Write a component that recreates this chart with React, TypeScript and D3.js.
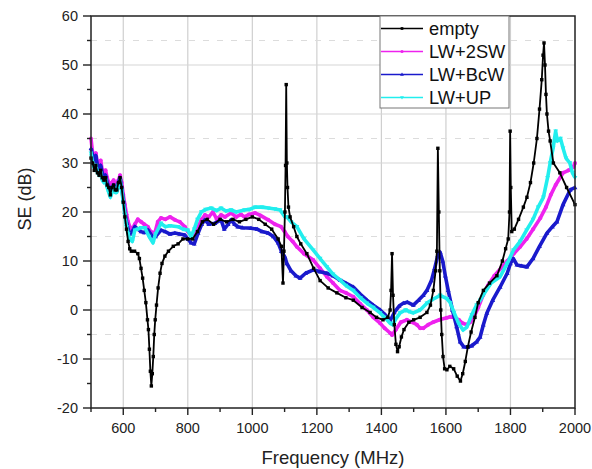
import React from "react";
import * as d3 from "d3";

type P = [number, number];

const xTicks = [600, 800, 1000, 1200, 1400, 1600, 1800, 2000];
const yTicks = [-20, -10, 0, 10, 20, 30, 40, 50, 60];
const yMinorGrid = [-5, 15, 35, 55];

const empty: P[] = [
  [500,31],[505,30],[510,28.5],[515,29.5],[520,28],[525,27.5],[530,28.5],[535,27],[540,26.5],[545,27],[550,25.5],[555,25],[560,23.5],[565,25],[570,25.5],[575,24.5],[580,24.5],[585,26],[590,27],[595,25],[600,22],[605,19],[610,16.5],[615,14],[620,12.5],[625,12],[635,12],[645,11.5],[650,10.5],[655,8.5],[660,6.5],[665,4],[670,1.5],[675,-2],[678,-4],[681,-8],[684,-12.5],[687,-15.5],[690,-13],[693,-9.5],[696,-5],[699,-2],[703,1],[708,4.5],[714,7.5],[720,9.5],[729,11],[740,12],[755,13],[770,13.5],[785,14.5],[800,14.5],[815,14.5],[830,16],[845,18],[860,18.5],[880,17.5],[900,18.5],[920,18],[940,18.5],[960,18],[980,18.5],[1000,19],[1020,18.5],[1040,17.5],[1060,16.5],[1080,14.5],[1090,13],[1095,5.5],[1098,12],[1101,20],[1103,29.5],[1105,46],[1107,30],[1109,25],[1112,21],[1117,19],[1128,17],[1138,15],[1150,13.5],[1169,11.5],[1190,8.5],[1210,6],[1235,4.5],[1262,3.5],[1290,2.5],[1313,2],[1340,0.5],[1365,-0.5],[1385,-1.5],[1405,-2],[1420,-1.5],[1427,0],[1430,4],[1433,11.5],[1436,3],[1440,-3],[1445,-7],[1450,-8.5],[1455,-7.5],[1462,-5.5],[1470,-4],[1485,-2.5],[1500,-2],[1520,-1.5],[1541,-0.5],[1552,1],[1561,4],[1568,8],[1572,12],[1575,33],[1578,20],[1581,8],[1584,0],[1587,-5],[1591,-9.5],[1596,-12],[1603,-12.2],[1612,-11.5],[1624,-12],[1635,-13.5],[1645,-14.5],[1652,-13],[1660,-10.5],[1668,-7.5],[1678,-4.5],[1690,-1.5],[1700,1.5],[1716,4],[1735,5.5],[1758,7],[1775,10],[1785,12.5],[1793,14.5],[1797,20],[1799,36.5],[1801,25],[1804,16],[1812,16.5],[1825,18.5],[1840,21],[1851,23],[1862,26],[1872,30],[1882,35],[1890,41],[1897,47],[1901,52],[1904,54.5],[1907,50],[1910,44],[1913,40],[1918,36.5],[1923,34.5],[1933,30],[1953,28],[1974,25],[2000,21.5]
];

const lw2sw: P[] = [
  [500,35],[505,32],[510,31],[515,32],[520,30],[525,29.5],[530,30.5],[535,28.5],[540,28],[545,28.5],[550,27],[555,26],[560,25],[565,26],[570,26.5],[575,25.5],[580,25],[585,26.5],[590,27.5],[595,26],[600,23.5],[605,21.5],[610,19.5],[615,18],[620,17],[628,16.5],[636,17.5],[645,18.5],[655,18],[665,17.5],[676,17],[685,16],[698,15.7],[707,18],[717,18.8],[730,18.5],[745,19],[760,18.4],[775,18],[791,17],[800,16],[810,15.3],[820,15.5],[832,17],[843,18.5],[853,19.4],[865,19],[878,20],[890,18.5],[903,19.4],[915,19],[934,19.8],[950,19],[965,19.5],[976,19],[990,19.5],[1008,19.8],[1025,19.3],[1049,18.4],[1070,17.5],[1089,17],[1100,16],[1110,15],[1125,14],[1138,12.9],[1160,11.5],[1189,10.2],[1210,8.5],[1231,6.8],[1250,5.5],[1272,4],[1290,3.5],[1313,2.7],[1335,1.2],[1355,0],[1375,-1.5],[1396,-2.7],[1410,-3.7],[1427,-4.7],[1433,-5.1],[1445,-4],[1460,-2.5],[1479,-2],[1495,-2.5],[1510,-3],[1520,-3.7],[1530,-3.7],[1545,-3],[1560,-2.5],[1580,-2],[1603,-1.6],[1613,-1.4],[1625,-1.5],[1640,-2],[1652,-2.7],[1665,-3],[1675,-2.5],[1685,-1.7],[1700,0.5],[1715,3],[1730,5],[1750,7],[1770,8.5],[1790,10],[1810,11.5],[1830,12.9],[1850,14.5],[1870,16.5],[1892,18.7],[1910,21],[1925,23.5],[1940,25.5],[1963,28],[1980,28.5],[1995,29.2],[2000,30]
];

const lwBcw: P[] = [
  [500,33],[505,31.5],[510,30.5],[515,31.5],[520,29.5],[525,28.5],[530,29.5],[535,28],[540,27],[545,27.5],[550,26],[555,25],[560,24],[565,25],[570,25.5],[575,25],[580,24.5],[585,26],[590,27],[595,25],[600,22.5],[605,20],[610,18],[615,16.5],[620,15.5],[628,16],[636,17],[645,16.5],[655,16],[665,15.8],[677,16.3],[690,15],[700,15],[717,16.3],[730,16],[745,15.5],[760,15.7],[775,15.5],[791,15.3],[800,14.5],[810,13.7],[820,13.5],[832,15.7],[843,17.5],[853,18.4],[865,17.5],[884,17.7],[903,18.4],[913,16.5],[925,17.5],[934,18.4],[945,17.5],[955,17],[970,16.8],[996,16.7],[1015,16.5],[1030,16],[1049,15.7],[1065,15],[1080,13.7],[1090,12],[1101,10.8],[1107,9.5],[1120,8],[1135,7],[1148,6.5],[1165,7.5],[1189,8.2],[1210,7.8],[1231,7.5],[1250,7],[1272,6.1],[1290,5.5],[1313,4.7],[1335,3.2],[1355,2],[1375,1],[1396,0],[1412,-1],[1427,-2.2],[1440,-0.5],[1455,0.8],[1468,1.4],[1480,1.6],[1499,1],[1515,2],[1530,3],[1541,4],[1555,6],[1565,8.5],[1575,11.2],[1582,11.8],[1590,10],[1598,7],[1607,4],[1620,0],[1633,-3.4],[1644,-6.5],[1655,-7.5],[1667,-7.6],[1680,-7.3],[1695,-6.5],[1706,-5.5],[1716,-3],[1727,-0.6],[1745,2],[1768,4.7],[1790,7.5],[1800,9.5],[1809,10.5],[1820,9.2],[1835,9],[1851,8.8],[1870,10.5],[1890,13],[1913,15.7],[1930,17],[1944,18],[1963,21.5],[1985,24.5],[2000,25]
];

const lwUp: P[] = [
  [500,32],[505,30],[510,29],[515,29.5],[520,28],[525,27.5],[530,28],[535,26.5],[540,26],[545,26.5],[550,25],[555,24],[560,23],[565,24],[570,25],[575,24],[580,24],[585,25.5],[590,26.5],[595,24.5],[600,22],[605,19.5],[610,17],[615,15.5],[620,14.5],[628,14],[636,16.3],[645,16.5],[655,16.8],[667,16.8],[680,15],[692,13.7],[700,15.5],[717,17.7],[730,17],[745,17.2],[770,17],[785,16.5],[800,16.3],[810,15],[820,16.5],[830,18.5],[842,20],[855,20.5],[873,20.8],[890,20.3],[903,20.8],[918,20.2],[934,20.4],[950,20],[976,20.4],[990,20.5],[1008,21],[1030,21],[1049,20.8],[1070,20.6],[1086,20.4],[1101,19],[1107,19],[1120,18],[1138,17],[1160,14.5],[1189,12.2],[1210,10.5],[1231,8.8],[1250,7.3],[1272,6.1],[1290,5],[1313,4],[1335,2.5],[1355,1.4],[1375,0.5],[1396,-0.6],[1410,-1.5],[1427,-2.7],[1435,-3],[1445,-1.8],[1458,-0.6],[1475,0],[1485,-0.3],[1499,-0.6],[1520,0],[1541,1.4],[1560,2.2],[1582,3],[1603,2.3],[1613,1.5],[1625,-0.5],[1640,-2.8],[1653,-4.1],[1665,-3.5],[1680,-1],[1695,1],[1706,2],[1720,3.5],[1740,5.5],[1768,6.8],[1790,9.5],[1809,12.2],[1830,14],[1850,16.3],[1870,18.5],[1886,21],[1902,23],[1915,27],[1923,30],[1932,33],[1940,36.5],[1945,34.5],[1955,35],[1963,33],[1972,31],[1984,30],[1992,28],[2000,27]
];

const seriesNames = ["empty", "LW+2SW", "LW+BcW", "LW+UP"];
const seriesColors = ["#000000", "#ee22ee", "#1a1acc", "#22eeee"];
const seriesData = [empty, lw2sw, lwBcw, lwUp];

const W = 592, H = 469;
const M = { left: 91, right: 575, top: 16, bottom: 408 };
const FONT = "'Liberation Sans', Arial, sans-serif";

function Marker({ kind, x, y, color, s = 1 }: { kind: number; x: number; y: number; color: string; s?: number }) {
  if (kind === 0) return <rect x={x - 1.7 * s} y={y - 1.7 * s} width={3.4 * s} height={3.4 * s} fill={color} />;
  if (kind === 1) return <circle cx={x} cy={y} r={2 * s} fill={color} />;
  if (kind === 2) return <path d={`M${x},${y - 2.4 * s}L${x + 2.4 * s},${y + 1.7 * s}L${x - 2.4 * s},${y + 1.7 * s}Z`} fill={color} />;
  return <path d={`M${x},${y + 2.4 * s}L${x + 2.4 * s},${y - 1.7 * s}L${x - 2.4 * s},${y - 1.7 * s}Z`} fill={color} />;
}

export default function App() {
  const x = d3.scaleLinear().domain([500, 2000]).range([M.left, M.right]);
  const y = d3.scaleLinear().domain([-20, 60]).range([M.bottom, M.top]);
  const line = d3.line<P>().x((d) => x(d[0])).y((d) => y(d[1]));
  const xMinor = d3.range(500, 2001, 100);
  const yMinor = d3.range(-20, 61, 5);
  const order = [1, 2, 3, 0];

  return (
    <svg width={W} height={H} style={{ position: "absolute", left: 0, top: 0, background: "#fff" }}>
      <rect width={W} height={H} fill="#fff" />
      {/* grid */}
      {xTicks.filter((t) => t < 2000).map((t) => (
        <line key={"gx" + t} x1={x(t)} x2={x(t)} y1={M.top} y2={M.bottom} stroke="#cfcfcf" strokeWidth={1.2} />
      ))}
      {yTicks.filter((t) => t > -20 && t < 60).map((t) => (
        <line key={"gy" + t} x1={M.left} x2={M.right} y1={y(t)} y2={y(t)} stroke="#d6d6d6" strokeWidth={1.2} />
      ))}
      {yMinorGrid.map((t) => (
        <line key={"gm" + t} x1={M.left} x2={M.right} y1={y(t)} y2={y(t)} stroke="#dcdcdc" strokeWidth={1} strokeDasharray="6 8" />
      ))}
      {/* series */}
      {order.map((i) => (
        <g key={"s" + i}>
          <path d={line(seriesData[i]) || ""} fill="none" stroke={seriesColors[i]} strokeWidth={i === 0 ? 1.8 : 3.6} strokeLinejoin="round" />
          {seriesData[i].map((d, j) => (
            <Marker key={j} kind={i} x={x(d[0])} y={y(d[1])} color={seriesColors[i]} />
          ))}
        </g>
      ))}
      {/* frame */}
      <rect x={M.left} y={M.top} width={M.right - M.left} height={M.bottom - M.top} fill="none" stroke="#222" strokeWidth={1.5} />
      {/* y ticks */}
      {yMinor.map((t) => (
        <line key={"yt" + t} x1={M.left - (t % 10 === 0 ? 8 : 4)} x2={M.left} y1={y(t)} y2={y(t)} stroke="#222" strokeWidth={1.4} />
      ))}
      {yTicks.map((t) => (
        <text key={"yl" + t} x={M.left - 13} y={y(t) + 5} textAnchor="end" fontFamily={FONT} fontSize={14.5} fill="#222">{t}</text>
      ))}
      {/* x ticks */}
      {xMinor.map((t) => (
        <line key={"xt" + t} x1={x(t)} x2={x(t)} y1={M.bottom} y2={M.bottom + (t % 200 === 0 ? 7 : 4)} stroke="#222" strokeWidth={1.4} />
      ))}
      {xTicks.map((t) => (
        <text key={"xl" + t} x={x(t)} y={M.bottom + 25} textAnchor="middle" fontFamily={FONT} fontSize={14.5} fill="#222">{t}</text>
      ))}
      {/* axis titles */}
      <text x={333} y={464} textAnchor="middle" fontFamily={FONT} fontSize={18.5} fill="#222">Frequency (MHz)</text>
      <text transform={`translate(31,199) rotate(-90)`} textAnchor="middle" fontFamily={FONT} fontSize={18} fill="#222">SE (dB)</text>
      {/* legend */}
      <g>
        <rect x={380} y={M.top} width={129} height={92} fill="#fff" stroke="#777" strokeWidth={1} />
        {seriesNames.map((n, i) => {
          const cy = 28.5 + i * 23;
          return (
            <g key={"lg" + i}>
              <line x1={381} x2={423} y1={cy} y2={cy} stroke={seriesColors[i]} strokeWidth={1.5} />
              <Marker kind={i} x={402} y={cy} color={seriesColors[i]} s={0.8} />
              <text x={429} y={cy + 6.5} fontFamily={FONT} fontSize={18.3} fill="#111">{n}</text>
            </g>
          );
        })}
      </g>
    </svg>
  );
}
